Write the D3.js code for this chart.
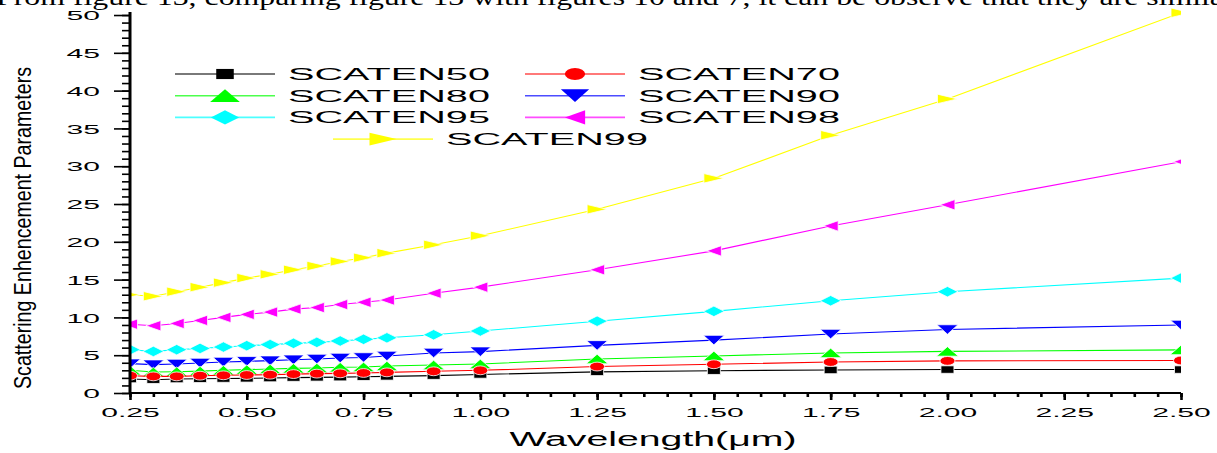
<!DOCTYPE html>
<html>
<head>
<meta charset="utf-8">
<script src="https://cdn.jsdelivr.net/npm/d3@7/dist/d3.min.js"></script>
<style>
  body { margin: 0; background: #fff; }
  svg { display: block; }
  text { font-family: "Liberation Sans", Arial, sans-serif; fill: #000; }
</style>
</head>
<body>
<svg id="chart" width="1217" height="453"></svg>
<script>
// values
const wavelength = [0.25, 0.30, 0.35, 0.40, 0.45, 0.50, 0.55, 0.60, 0.65, 0.70, 0.75, 0.80, 0.90, 1.00, 1.25, 1.50, 1.75, 2.00, 2.50];
const scaten50 = [1.85, 1.76, 1.85, 1.88, 1.91, 1.94, 1.98, 2.04, 2.07, 2.10, 2.15, 2.20, 2.30, 2.45, 2.80, 2.95, 3.05, 3.10, 3.10];
const scaten70 = [2.29, 2.20, 2.20, 2.29, 2.34, 2.38, 2.42, 2.50, 2.56, 2.60, 2.65, 2.73, 2.87, 3.00, 3.50, 3.80, 4.10, 4.25, 4.30];
const scaten80 = [3.00, 2.78, 2.82, 2.90, 3.00, 3.09, 3.17, 3.26, 3.30, 3.40, 3.44, 3.57, 3.70, 3.84, 4.50, 4.90, 5.30, 5.50, 5.70];
const scaten90 = [3.88, 3.75, 3.84, 3.97, 4.10, 4.19, 4.28, 4.40, 4.50, 4.63, 4.70, 4.90, 5.30, 5.47, 6.30, 7.00, 7.80, 8.40, 9.00];
const scaten95 = [5.73, 5.50, 5.73, 5.90, 6.08, 6.26, 6.40, 6.57, 6.70, 6.88, 7.10, 7.30, 7.70, 8.20, 9.50, 10.8, 12.2, 13.4, 15.2];
const scaten98 = [9.10, 8.90, 9.20, 9.60, 10.0, 10.4, 10.7, 11.1, 11.3, 11.7, 12.0, 12.3, 13.2, 14.0, 16.3, 18.8, 22.1, 24.9, 30.6];
const scaten99 = [13.0, 12.8, 13.4, 14.0, 14.6, 15.2, 15.7, 16.3, 16.8, 17.4, 17.9, 18.5, 19.6, 20.8, 24.3, 28.4, 34.1, 38.9, 50.3];

const xTicks = [0.25, 0.50, 0.75, 1.00, 1.25, 1.50, 1.75, 2.00, 2.25, 2.50];
const yTicks = [0, 5, 10, 15, 20, 25, 30, 35, 40, 45, 50];
const xTitle = 'Wavelength(\u03bcm)';
const yTitle = 'Scattering Enhencement Parameters';
const pageText = 'From figure 13, comparing figure 13 with figures 10 and 7, it can be observe that they are simila';

const series = [
  { name: 'SCATEN50', values: scaten50, color: '#000000', shape: 'square' },
  { name: 'SCATEN70', values: scaten70, color: '#ff0000', shape: 'circle' },
  { name: 'SCATEN80', values: scaten80, color: '#00ff00', shape: 'up' },
  { name: 'SCATEN90', values: scaten90, color: '#0000ff', shape: 'down' },
  { name: 'SCATEN95', values: scaten95, color: '#00ffff', shape: 'diamond' },
  { name: 'SCATEN98', values: scaten98, color: '#ff00ff', shape: 'left' },
  { name: 'SCATEN99', values: scaten99, color: '#ffff00', shape: 'right' }
];

// the figure is stretched sideways, text too
const SX = 2.35;

const svg = d3.select('#chart');
const x = d3.scaleLinear().domain([0.25, 2.5]).range([130, 1181]);
const y = d3.scaleLinear().domain([0, 50.4]).range([393, 12]);

// marker outlines, sized in screen pixels
function markerPath(shape, k) {
  if (shape === 'circle') {
    const rx = 7.5 * k, ry = 4.4 * k;
    return `M${-rx},0A${rx},${ry} 0 1,0 ${rx},0A${rx},${ry} 0 1,0 ${-rx},0Z`;
  }
  const p = d3.path();
  let w, h;
  switch (shape) {
    case 'square':
      w = 13 * k; h = 7.5 * k;
      p.rect(-w / 2, -h / 2, w, h);
      break;
    case 'up':
      w = 22 * k; h = 9.5 * k;
      p.moveTo(-w / 2, h / 2); p.lineTo(0, -h / 2); p.lineTo(w / 2, h / 2); p.closePath();
      break;
    case 'down':
      w = 21 * k; h = 9.5 * k;
      p.moveTo(-w / 2, -h / 2); p.lineTo(w / 2, -h / 2); p.lineTo(0, h / 2); p.closePath();
      break;
    case 'diamond':
      w = 21 * k; h = 10.5 * k;
      p.moveTo(-w / 2, 0); p.lineTo(0, -h / 2); p.lineTo(w / 2, 0); p.lineTo(0, h / 2); p.closePath();
      break;
    case 'left':
      w = 15 * k; h = 10.5 * k;
      p.moveTo(-w / 2, 0); p.lineTo(w / 2, -h / 2); p.lineTo(w / 2, h / 2); p.closePath();
      break;
    case 'right':
      w = 20 * k; h = 9.5 * k;
      p.moveTo(w / 2, 0); p.lineTo(-w / 2, -h / 2); p.lineTo(-w / 2, h / 2); p.closePath();
      break;
  }
  return p.toString();
}

// page text cut off at the top
svg.append('text')
  .attr('x', -4)
  .attr('y', 5)
  .attr('textLength', 1228)
  .attr('lengthAdjust', 'spacingAndGlyphs')
  .style('font-family', '"Liberation Serif", "Times New Roman", serif')
  .style('font-size', '24px')
  .text(pageText);

svg.append('defs').append('clipPath')
  .attr('id', 'plot-clip')
  .append('rect')
  .attr('x', 130).attr('y', 0)
  .attr('width', 1181 - 130).attr('height', 400);

const plot = svg.append('g').attr('clip-path', 'url(#plot-clip)');

const line = d3.line()
  .x(d => x(d[0]))
  .y(d => y(d[1]));

// draw order: red ends up on top of the black squares
const drawOrder = ['SCATEN99', 'SCATEN98', 'SCATEN95', 'SCATEN90', 'SCATEN80', 'SCATEN50', 'SCATEN70'];
drawOrder.map(n => series.find(s => s.name === n)).forEach(s => {
  const pts = wavelength.map((w, i) => [w, s.values[i]]);
  plot.append('path')
    .attr('d', line(pts))
    .attr('fill', 'none')
    .attr('stroke', s.color)
    .attr('stroke-width', 1.1);
  plot.selectAll(null)
    .data(pts)
    .enter().append('path')
    .attr('transform', d => `translate(${x(d[0])},${y(d[1])})`)
    .attr('d', markerPath(s.shape, 1))
    .attr('fill', s.color)
    .attr('stroke', '#fff')
    .attr('stroke-width', 0.8);
});

// axes
const xMinor = d3.range(46).map(i => 0.25 + i * 0.05);
const yMinor = d3.range(51);

const gx = svg.append('g').attr('transform', 'translate(0,393)');
gx.append('g').call(d3.axisBottom(x).tickValues(xMinor).tickSize(4).tickSizeOuter(0).tickFormat(''));
gx.append('g').call(d3.axisBottom(x).tickValues(xTicks).tickSize(7).tickSizeOuter(0).tickFormat(d3.format('.2f')));
gx.selectAll('.domain').remove();
gx.selectAll('.tick line').attr('stroke', '#000').attr('stroke-width', 2.6);
gx.selectAll('.tick text')
  .attr('y', 24)
  .attr('dy', 0)
  .attr('transform', `scale(${SX},1)`)
  .style('font-size', '12.8px');

const gy = svg.append('g').attr('transform', 'translate(130,0)');
gy.append('g').call(d3.axisLeft(y).tickValues(yMinor).tickSize(8).tickSizeOuter(0).tickFormat(''));
gy.append('g').call(d3.axisLeft(y).tickValues(yTicks).tickSize(16).tickSizeOuter(0));
gy.selectAll('.domain').remove();
gy.selectAll('.tick line').attr('stroke', '#000').attr('stroke-width', 1.6);
gy.selectAll('.tick text')
  .attr('x', -30 / SX)
  .attr('dy', '0.36em')
  .attr('transform', `scale(${SX},1)`)
  .style('font-size', '12.8px');

svg.append('line')
  .attr('x1', x.range()[0]).attr('x2', x.range()[1])
  .attr('y1', y(0)).attr('y2', y(0))
  .attr('stroke', '#000').attr('stroke-width', 2);
svg.append('line')
  .attr('x1', x(0.25)).attr('x2', x(0.25))
  .attr('y1', y(0) + 1).attr('y2', y.range()[1])
  .attr('stroke', '#000').attr('stroke-width', 3);

svg.append('text')
  .attr('x', 653)
  .attr('y', 446)
  .attr('text-anchor', 'middle')
  .attr('textLength', 287)
  .attr('lengthAdjust', 'spacingAndGlyphs')
  .style('font-size', '20px')
  .text(xTitle);

svg.append('text')
  .attr('transform', 'translate(31,228) rotate(-90)')
  .attr('text-anchor', 'middle')
  .attr('textLength', 322)
  .attr('lengthAdjust', 'spacingAndGlyphs')
  .style('font-size', '23px')
  .text(yTitle);

// legend
const legendSlots = [
  { name: 'SCATEN50', x0: 175, row: 0 },
  { name: 'SCATEN70', x0: 525, row: 0 },
  { name: 'SCATEN80', x0: 175, row: 1 },
  { name: 'SCATEN90', x0: 525, row: 1 },
  { name: 'SCATEN95', x0: 175, row: 2 },
  { name: 'SCATEN98', x0: 525, row: 2 },
  { name: 'SCATEN99', x0: 333, row: 3 }
];
const rowY = r => 74 + r * 21.7;
const legend = svg.append('g');
legendSlots.forEach(slot => {
  const s = series.find(d => d.name === slot.name);
  const ly = rowY(slot.row);
  const item = legend.append('g');
  item.append('line')
    .attr('x1', slot.x0).attr('x2', slot.x0 + 100)
    .attr('y1', ly).attr('y2', ly)
    .attr('stroke', s.color)
    .attr('stroke-opacity', 0.7)
    .attr('stroke-width', 1.6);
  item.append('path')
    .attr('transform', `translate(${slot.x0 + 50},${ly})`)
    .attr('d', markerPath(s.shape, 1.35))
    .attr('fill', s.color);
  item.append('text')
    .attr('x', slot.x0 + 113)
    .attr('y', ly + 6)
    .attr('textLength', 202)
    .attr('lengthAdjust', 'spacingAndGlyphs')
    .style('font-size', '16.8px')
    .text(s.name);
});
</script>
</body>
</html>
